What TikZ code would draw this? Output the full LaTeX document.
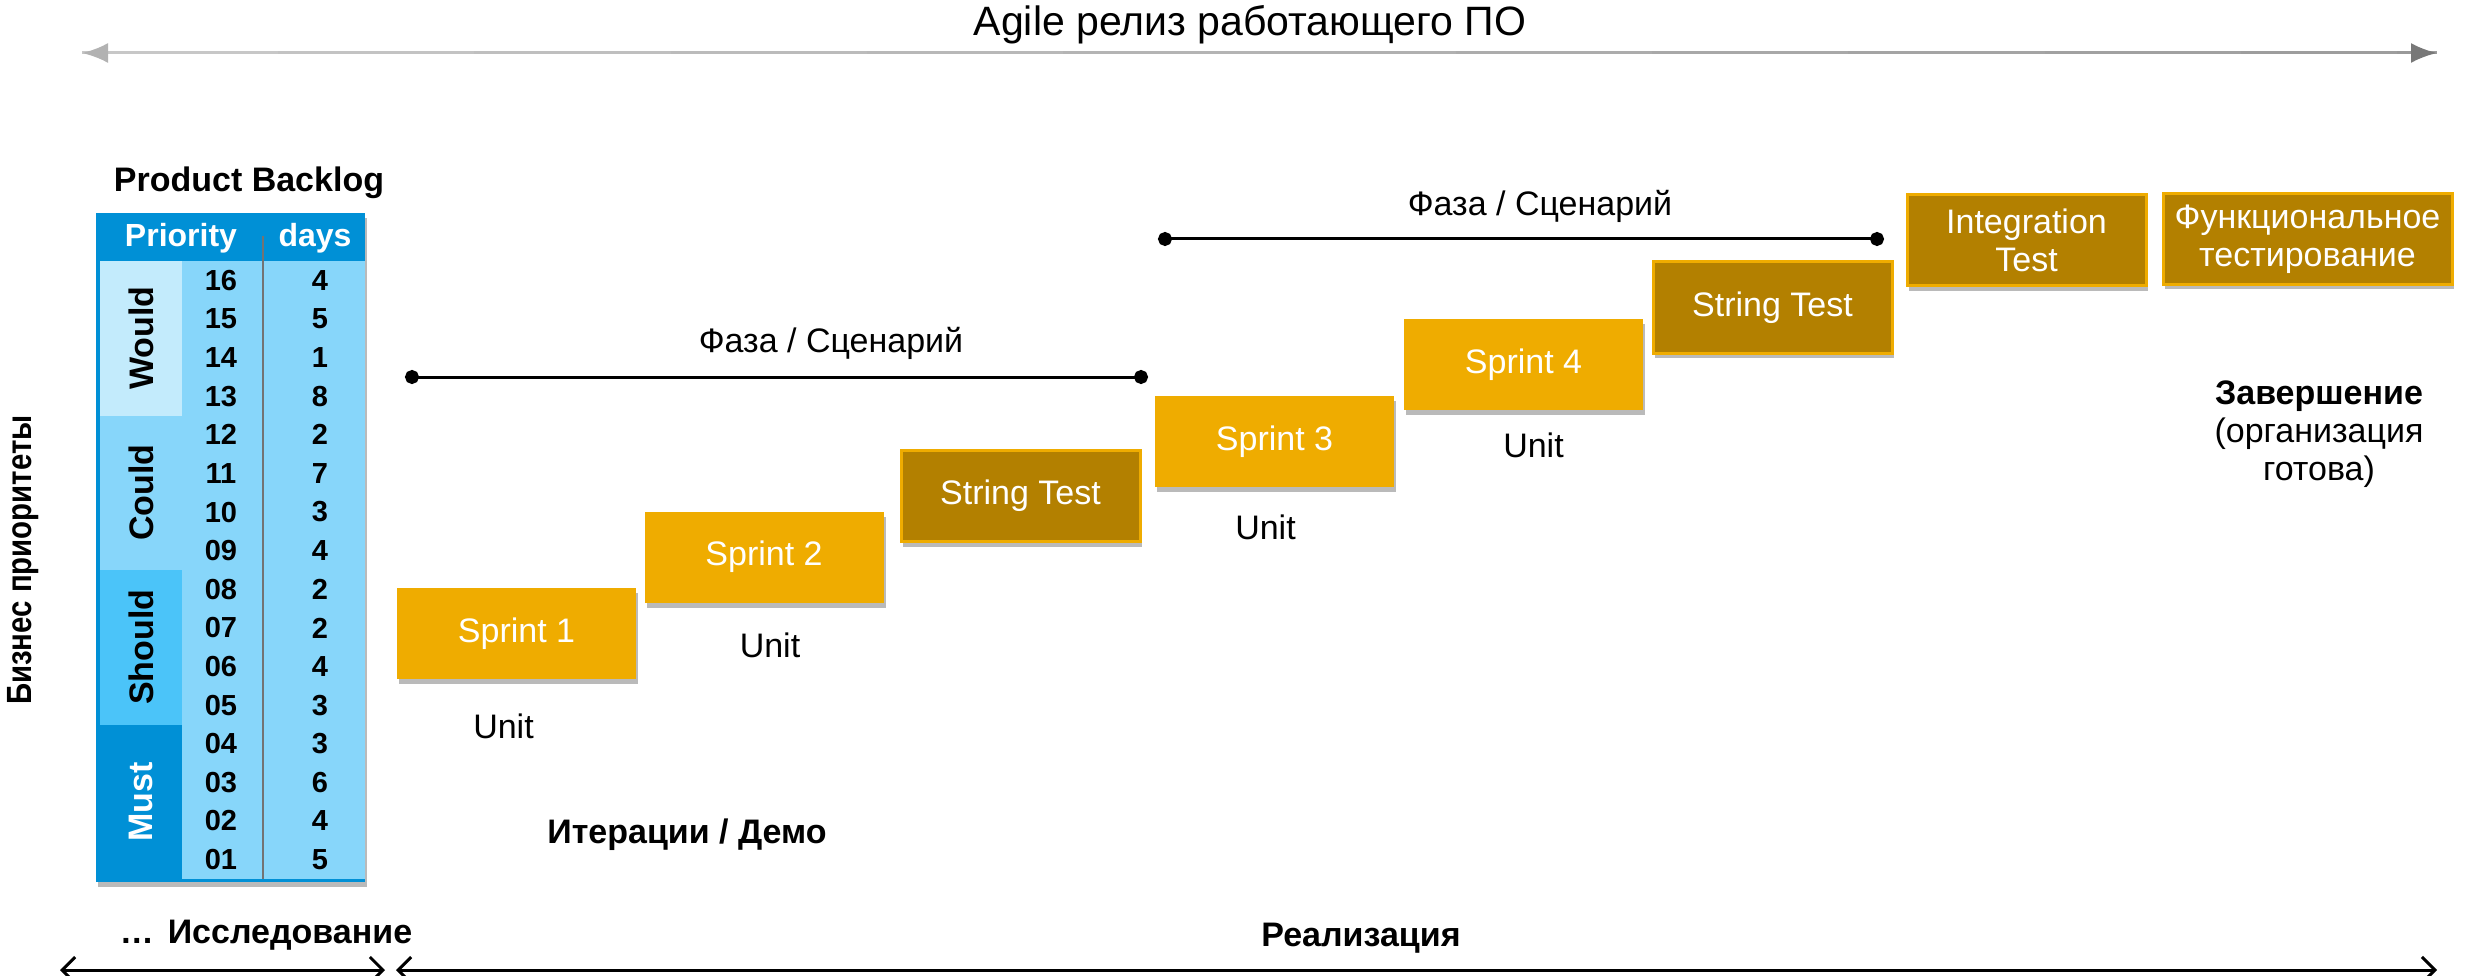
\documentclass[tikz,border=0pt]{standalone}
\usepackage{fontspec}
\setmainfont{Liberation Sans}
\usetikzlibrary{positioning,shadows,arrows.meta,calc}
\definecolor{gold}{HTML}{EFAC00}
\definecolor{darkgold}{HTML}{B38000}
\definecolor{hdrblue}{HTML}{0090D6}
\definecolor{bodyblue}{HTML}{87D6FA}
\definecolor{wouldblue}{HTML}{C3EBFC}
\definecolor{shouldblue}{HTML}{4BC4F9}
\newcommand\txtfont{\fontsize{34}{38}\selectfont}
\newcommand\numfont{\fontsize{29}{31}\selectfont\bfseries}
\newcommand\narrowtxt[1]{\scalebox{0.84}[1]{#1}}
\tikzset{
        boxshadow/.style={drop shadow={shadow xshift=2pt, shadow yshift=-5pt, opacity=0.45, fill=black!60}},
        sprint/.style={fill=gold, text=white, minimum width=239pt, minimum height=91pt, inner sep=2pt, align=center, font=\txtfont, boxshadow},
        stringtest/.style={sprint, fill=darkgold, draw=gold, line width=3pt},
        unit/.style={font=\txtfont},
        label/.style={font=\txtfont\bfseries},
        num/.style={font=\numfont},
        cat/.style={font=\fontsize{34}{36}\selectfont\bfseries, rotate=90},
        hdr/.style={font=\fontsize{32}{34}\selectfont\bfseries, text=white},
        phase/.style={line width=3pt, {Circle[length=14pt]}-{Circle[length=14pt]}},
        span/.style={line width=3pt, {Straight Barb[length=13pt,width=26pt]}-{Straight Barb[length=13pt,width=26pt]}}
          }

\begin{document}
\begin{tikzpicture}[x=1pt,y=-1pt]
      \useasboundingbox (0,0) rectangle (2465,976);
      \coordinate (agl) at (82,53);
      \coordinate (agr) at (2437,53);
      \foreach \k [evaluate=\k as \fa using \k/12, evaluate=\k as \fb using (\k+1)/12, evaluate=\k as \gv using 22+1.5*\k] in {0,...,11}
        \draw[line width=3pt, black!\gv] ($(agl)!\fa!(agr)$) -- ($(agl)!\fb!(agr)$);
      \draw[line width=3pt, black!22, {Latex[length=26pt,width=20pt,color=black!30]}-] (agl) -- ++(40,0);
      \draw[line width=3pt, black!40, -{Latex[length=26pt,width=20pt,color=black!53]}] ($(agr)+(-40,0)$) -- (agr);
      \node[font=\fontsize{41}{46}\selectfont] (agile) at (1250,25) {Agile релиз работающего ПО};

      \node[label] (pb) at (249,183) {Product Backlog};
      \fill[hdrblue, boxshadow] (96,213) rectangle (365,882);
      \fill[bodyblue] (100,261) rectangle (365,879);
      \fill[wouldblue] (100,261) rectangle (182,415.5);
      \fill[shouldblue] (100,570) rectangle (182,724.5);
      \fill[hdrblue] (100,724.5) rectangle (182,879);
      \draw[black!55, line width=2pt] (263,236) -- (263,879);
      \node[hdr] (prio) at (181,238) {Priority};
      \node[hdr] (days) at (315,238) {days};
      \foreach \nm/\tc [count=\i from 0] in {Would/black, Could/black, Should/black, Must/white}
        \node[cat, text=\tc] (c\nm) at (141, {261+154.5*(\i+0.5)}) {\nm};
      \foreach \p/\d [count=\i from 0] in {16/4,15/5,14/1,13/8,12/2,11/7,10/3,09/4,08/2,07/2,06/4,05/3,04/3,03/6,02/4,01/5}{
        \node[num] (p\p) at (221, {261+38.62*(\i+0.5)}) {\p};
        \node[num] (d\p) at (320, {261+38.62*(\i+0.5)}) {\d};
      }
      \node[cat, font=\fontsize{35}{36}\selectfont\bfseries] (biz) at (23,560) {\narrowtxt{Бизнес приоритеты}};

      \node[sprint] (s1) at (516.5,633.5) {Sprint 1};
      \node[sprint] (s2) at (764,557) {Sprint 2};
      \node[stringtest] (st1) at (1020.5,496) {String Test};
      \node[sprint] (s3) at (1274.5,441.5) {Sprint 3};
      \node[sprint] (s4) at (1523.5,364.5) {Sprint 4};
      \node[stringtest] (st2) at (1772.5,307.5) {String Test};
      \node[stringtest] (it) at (2026.5,240.5) {Integration\\Test};
      \node[stringtest, minimum width=289pt] (ft) at (2307.5,239) {Функциональное\\тестирование};

      \node[unit, below=31pt of s1, xshift=-13pt] (u1) {Unit};
      \node[unit, below=27pt of s2, xshift=6pt] (u2) {Unit};
      \node[unit, below=24pt of s3, xshift=-9pt] (u3) {Unit};
      \node[unit, below=19pt of s4, xshift=10pt] (u4) {Unit};

      \coordinate (pa1) at (405,377);
      \coordinate (pb1) at (1148,377);
      \draw[phase] (pa1) -- (pb1);
      \node[unit] (ph1) at (831,343) {Фаза / Сценарий};
      \coordinate (pa2) at (1158,239);
      \coordinate (pb2) at (1884,239);
      \draw[phase] (pa2) -- (pb2);
      \node[unit] (ph2) at (1540,206) {Фаза / Сценарий};

      \node[unit, align=center] (done) at (2319,434) {\textbf{Завершение}\\(организация\\готова)};
      \node[label] (iter) at (687,835) {Итерации / Демо};
      \node[label] (expl) at (266,935) {…\hspace{14pt}Исследование};
      \node[label] (impl) at (1361,938) {Реализация};

      \coordinate (el) at (60,970);
      \coordinate (er) at (385,970);
      \coordinate (rl) at (396,970);
      \coordinate (rr) at (2437,970);
      \draw[span] (el) -- (er);
      \draw[span] (rl) -- (rr);
    \end{tikzpicture}
\end{document}
